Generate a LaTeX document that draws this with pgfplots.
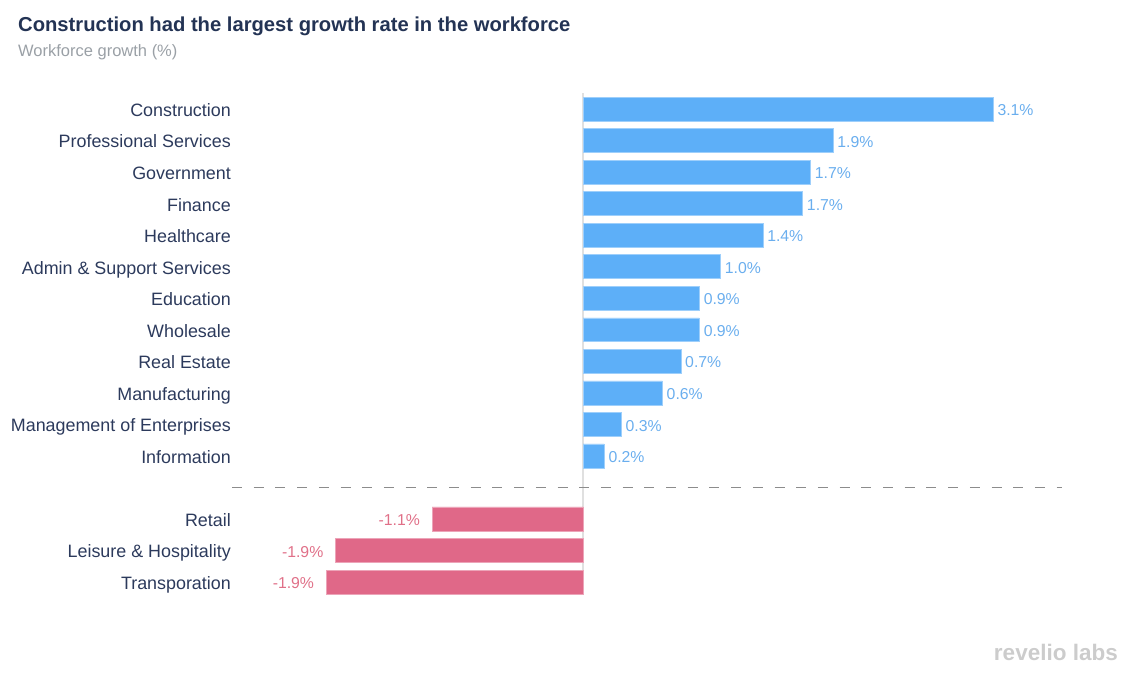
\documentclass[border=0pt]{standalone}
\usepackage{pgfplots}
\pgfplotsset{compat=1.18}
\usepackage{pgfplotstable}
\usepackage{fontspec}
\setmainfont{Liberation Sans}

\definecolor{barblue}{HTML}{5DAFF8}
\definecolor{lblblue}{HTML}{6AAEEE}
\definecolor{barpink}{HTML}{E06888}
\definecolor{lblpink}{HTML}{E07088}
\definecolor{titlenavy}{HTML}{233354}
\definecolor{catnavy}{HTML}{2C3A5C}
\definecolor{subgray}{HTML}{9AA0A6}

% growth rates
\pgfplotstableread{
y x lab
0 3.10 3.1\%
1 1.89 1.9\%
2 1.72 1.7\%
3 1.66 1.7\%
4 1.36 1.4\%
5 1.04 1.0\%
6 0.88 0.9\%
7 0.88 0.9\%
8 0.74 0.7\%
9 0.60 0.6\%
10 0.29 0.3\%
11 0.16 0.2\%
}\gains
\pgfplotstableread{
y x lab
13 -1.14 -1.1\%
14 -1.87 -1.9\%
15 -1.94 -1.9\%
}\losses

\begin{document}
\begin{tikzpicture}
\path[use as bounding box] (0,0) rectangle (1138pt,679pt);
\node[anchor=base west, font=\fontsize{20.2}{24}\selectfont\bfseries, text=titlenavy, inner sep=0]
  at (18pt,647pt) {Construction had the largest growth rate in the workforce};
\node[anchor=base west, font=\fontsize{16.5}{19}\selectfont, text=subgray, inner sep=0]
  at (18pt,622pt) {Workforce growth (\%)};
\node[anchor=base east, font=\fontsize{22.5}{26}\selectfont\bfseries, text=black!20, inner sep=0]
  at (1118pt,18pt) {revelio labs};
\begin{axis}[
    at={(232pt,81.2pt)}, anchor=south west,
    scale only axis, width=830pt, height=504.5pt,
    xmin=-2.653, xmax=3.620,
    ymin=-0.5, ymax=15.5, y dir=reverse,
    xbar, bar width=0.76, bar shift=0pt,
    axis line style={draw=none},
    xtick=\empty,
    ytick={0,1,2,3,4,5,6,7,8,9,10,11,13,14,15},
    yticklabels={Construction, Professional Services, Government, Finance, Healthcare,
                 Admin \& Support Services, Education, Wholesale, Real Estate,
                 Manufacturing, Management of Enterprises, Information,
                 Retail, Leisure \& Hospitality, Transporation},
    major tick length=0pt,
    yticklabel style={font=\fontsize{17.9}{20}\selectfont, text=catnavy, inner sep=0pt,
      xshift=-1pt, yshift=-1pt, text height=14pt, text depth=1.2pt},
    point meta=explicit symbolic,
    clip=false,
]
\draw[black!12, line width=1.2pt] (axis cs:0,-0.5) -- (axis cs:0,15.4);
\draw[black!45, line width=1.3pt, dash pattern=on 10pt off 11.7pt]
  (axis cs:-2.653,12) -- (axis cs:3.620,12);
\addplot[fill=barblue, draw=barblue!60!white, line width=0.6pt,
    nodes near coords,
    nodes near coords style={anchor=west, xshift=4pt, yshift=-1pt, text=lblblue,
      font=\fontsize{15.8}{18}\selectfont, inner sep=0pt,
      text height=12.2pt, text depth=0.9pt}]
  table[x=x, y=y, meta=lab] {\gains};
\addplot[fill=barpink, draw=barpink!60!white, line width=0.6pt,
    nodes near coords,
    nodes near coords style={anchor=east, xshift=-12pt, yshift=-1pt, text=lblpink,
      font=\fontsize{15.8}{18}\selectfont, inner sep=0pt,
      text height=12.2pt, text depth=0.9pt}]
  table[x=x, y=y, meta=lab] {\losses};
\end{axis}
\end{tikzpicture}
\end{document}
